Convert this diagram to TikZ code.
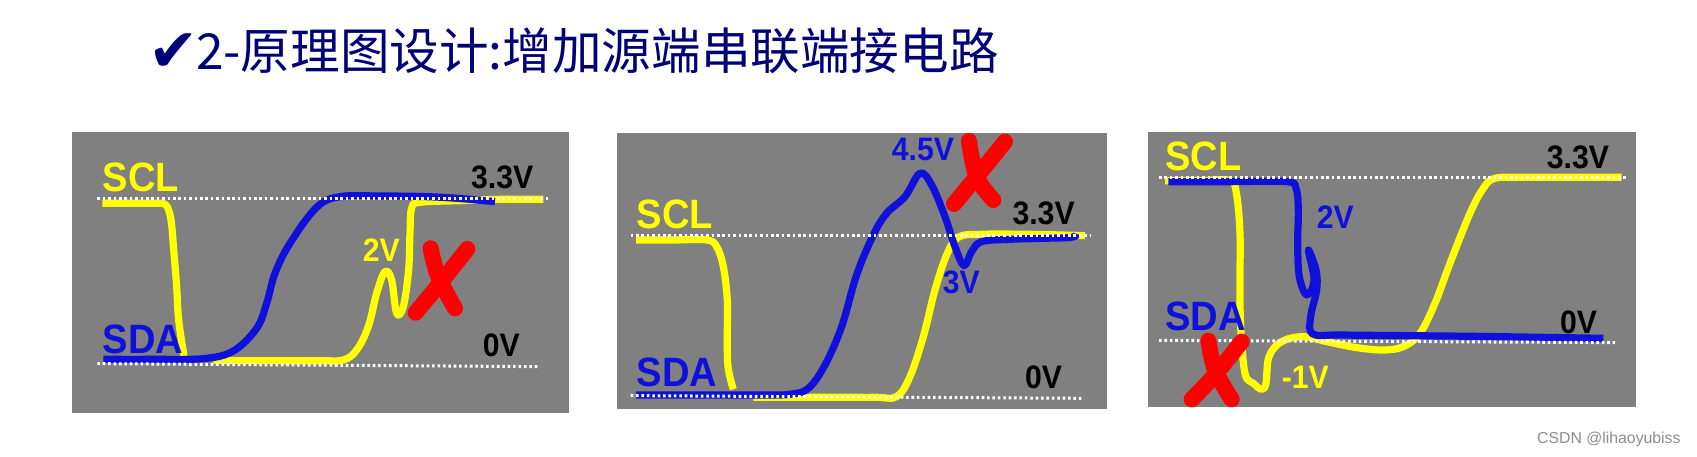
\documentclass[tikz,border=0pt]{standalone}
\usepackage{fontspec}
\setmainfont{Liberation Sans}
\newfontfamily\cjkfont{Noto Sans CJK SC}
\newfontfamily\symfont{DejaVu Sans}
\newfontfamily\wavefont[FakeStretch=0.93]{Liberation Sans Bold}
\definecolor{panelgray}{HTML}{808080}
\definecolor{sigyellow}{HTML}{FFFF00}
\definecolor{sigblue}{HTML}{1010DC}
\definecolor{titlenavy}{HTML}{000078}
\begin{document}
\begin{tikzpicture}[
    x=1pt, y=-1pt,
    panel/.style={fill=panelgray},
    sclwave/.style={draw=sigyellow, line width=7.2pt, line join=round},
    sdawave/.style={draw=sigblue, line width=7.2pt, line join=round},
    refline/.style={white, line width=3pt, dash pattern=on 2.6pt off 2.8pt},
    crossmark/.style={red, line width=16pt, line cap=round, line join=round},
    siglabel/.style={anchor=base west, inner sep=0pt, font=\wavefont\fontsize{41}{41}\selectfont},
    vlabel/.style={anchor=base west, inner sep=0pt, font=\wavefont\fontsize{32.5}{32.5}\selectfont},
    panelzoom/.style={x=0.3333pt, y=-0.3333pt},
    curve/.style={smooth, tension=0.6},
]
\useasboundingbox (0,0) rectangle (1697,457);

% Title
\node[anchor=base west, inner sep=0pt, text=titlenavy, font=\symfont\fontsize{60}{60}\selectfont] (tick) at (148,72) {✔};
\node[anchor=base west, inner sep=0pt, text=titlenavy, font=\cjkfont\fontsize{49.6}{49.6}\selectfont] (title) at (196,70) {2-原理图设计:增加源端串联端接电路};

% Panel 1: SCL ringback
\begin{scope}[shift={(60,120)}, panelzoom]
\fill[panel] (37,37) rectangle (1528,880);
\draw[sclwave] plot[curve] coordinates {(127,250) (220,250) (290,250) (318,255) (333,300) (342,400) (350,500) (356,600) (372,708)};
\draw[sclwave] plot[curve] coordinates {(460,722) (640,722) (780,722) (850,720) (890,690) (925,620) (950,520) (975,455) (995,480) (1010,580) (1030,560) (1046,450) (1050,340) (1055,265) (1080,247) (1200,242) (1320,238) (1450,238)};
\draw[sdawave] plot[curve] coordinates {(130,718) (280,718) (430,716) (520,693) (590,625) (620,550) (645,460) (690,370) (770,262) (840,230) (960,228) (1100,230) (1205,236) (1305,245)};
\draw[refline] (112,237) -- (1465,237);
\draw[refline] (112,731) -- (1440,740);
\node[siglabel, text=sigyellow] (sclA) at (128,215) {SCL};
\node[siglabel, text=sigblue] (sdaA) at (128,702) {SDA};
\node[vlabel] (highA) at (1233,205) {3.3V};
\node[vlabel] (lowA) at (1268,710) {0V};
\node[vlabel, text=sigyellow] (ringA) at (908,425) {2V};
\draw[crossmark] plot[curve] coordinates {(1112,385) (1135,470) (1185,565)};
\draw[crossmark] plot[curve] coordinates {(1222,387) (1140,490) (1067,578)};
\end{scope}

% Panel 2: SDA overshoot
\begin{scope}[shift={(610,120)}, panelzoom]
\fill[panel] (21,39) rectangle (1490,866);
\draw[sclwave] plot[curve] coordinates {(78,360) (190,360) (290,360) (320,380) (340,440) (352,540) (352,640) (354,740) (370,808)};
\draw[sclwave] plot[curve] coordinates {(430,832) (560,832) (700,832) (800,832) (860,830) (900,770) (940,650) (975,510) (1010,405) (1045,352) (1110,343) (1260,343) (1425,347)};
\draw[sdawave] plot[curve] coordinates {(78,825) (300,825) (450,825) (540,823) (595,805) (645,735) (695,620) (740,465) (790,345) (830,280) (885,230) (930,160) (965,195) (1005,290) (1035,380) (1062,437) (1085,395) (1115,365) (1200,358) (1300,355) (1385,352) (1400,342)};
\draw[refline] (62,348) -- (1440,348);
\draw[refline] (62,827) -- (1415,835);
\node[siglabel, text=sigyellow] (sclB) at (80,325) {SCL};
\node[siglabel, text=sigblue] (sdaB) at (80,800) {SDA};
\node[vlabel] (highB) at (1207,315) {3.3V};
\node[vlabel] (lowB) at (1245,805) {0V};
\node[vlabel, text=sigblue] (peakB) at (845,122) {4.5V};
\node[vlabel, text=sigblue] (dipB) at (998,522) {3V};
\draw[crossmark] plot[curve] coordinates {(1077,63) (1100,170) (1150,240)};
\draw[crossmark] plot[curve] coordinates {(1185,65) (1100,170) (1032,252)};
\end{scope}

% Panel 3: SCL undershoot
\begin{scope}[shift={(1140,120)}, panelzoom]
\fill[panel] (24,36) rectangle (1488,860);
\draw[sclwave] plot[curve] coordinates {(75,182) (180,182) (270,182) (290,225) (300,340) (300,480) (302,620) (315,760) (340,790) (365,808) (378,790) (387,710) (425,665) (490,650) (560,665) (650,683) (730,690) (790,680) (840,640) (885,550) (930,430) (990,280) (1030,205) (1065,175) (1150,172) (1300,172) (1445,172)};
\draw[sdawave] plot[curve] coordinates {(85,185) (270,185) (440,185) (468,205) (475,270) (473,370) (478,470) (500,525) (522,480) (505,390) (528,450) (530,510) (512,590) (518,642) (600,645) (800,647) (1000,649) (1200,652) (1390,655)};
\draw[refline] (57,173) -- (1460,173);
\draw[refline] (57,661) -- (1430,668);
\node[siglabel, text=sigyellow] (sclC) at (75,152) {SCL};
\node[siglabel, text=sigblue] (sdaC) at (75,633) {SDA};
\node[vlabel] (highC) at (1220,145) {3.3V};
\node[vlabel] (lowC) at (1260,640) {0V};
\node[vlabel, text=sigblue] (stepC) at (530,325) {2V};
\node[vlabel, text=sigyellow] (dipC) at (425,805) {-1V};
\draw[crossmark] plot[curve] coordinates {(205,662) (225,750) (275,838)};
\draw[crossmark] plot[curve] coordinates {(305,665) (220,770) (155,838)};
\end{scope}

% Watermark
\node[anchor=base west, inner sep=0pt, text=black!45, font=\fontsize{15.8}{15.8}\selectfont] (mark) at (1537,443) {CSDN @lihaoyubiss};
\end{tikzpicture}
\end{document}
